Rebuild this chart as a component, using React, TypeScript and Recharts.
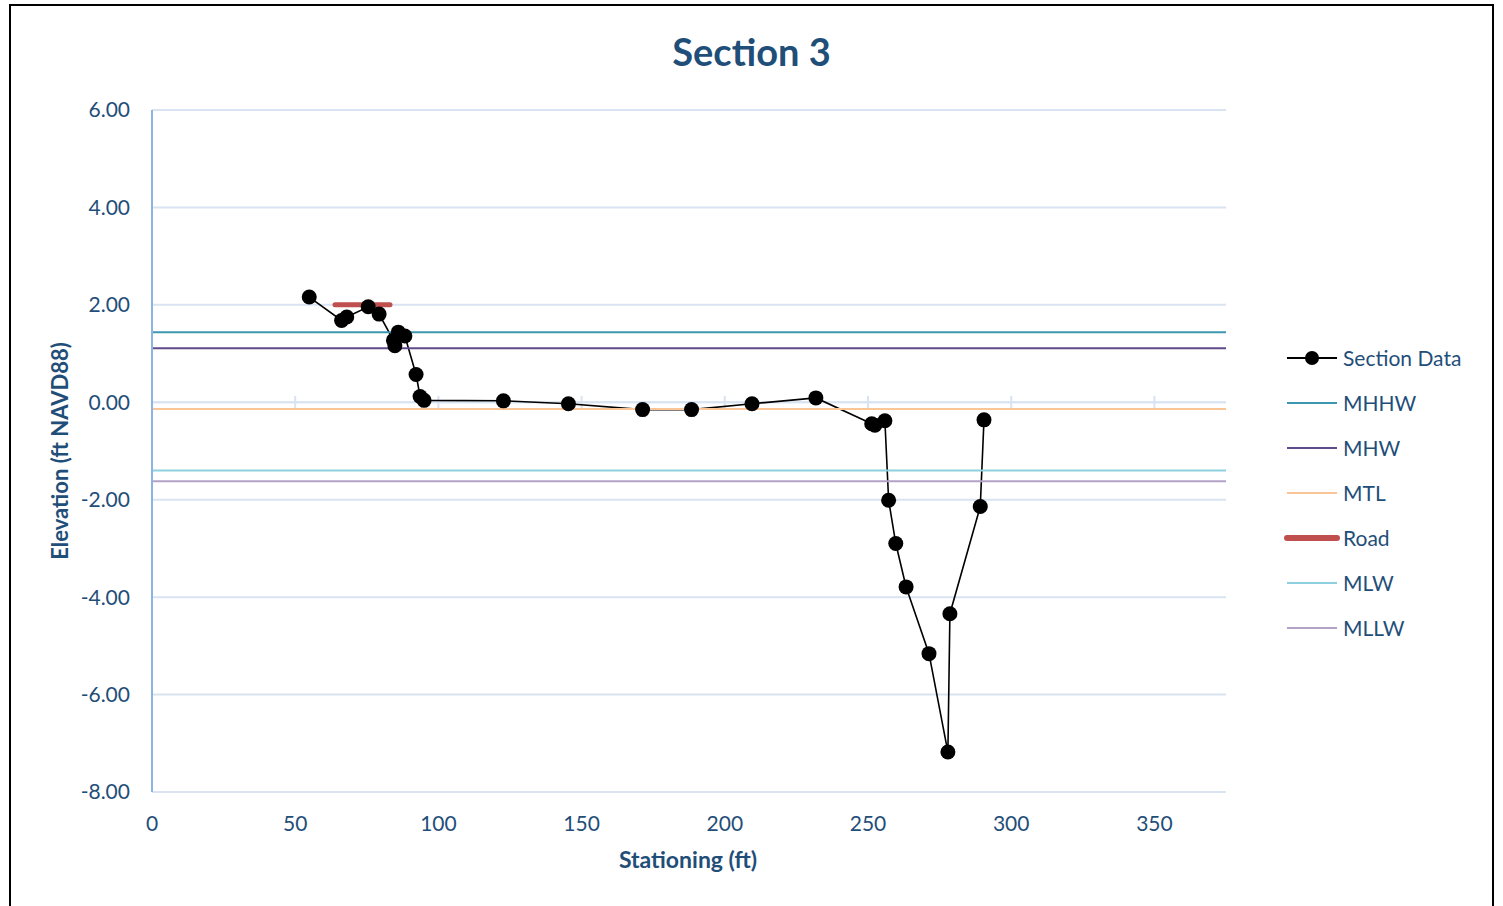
import React from "react";
import {
  LineChart,
  Line,
  XAxis,
  YAxis,
  CartesianGrid,
  ReferenceLine,
  Label,
} from "recharts";

// Surveyed cross-section, in survey order (station ft, elevation ft NAVD88)
const stationFt = [
  54.9, 66.2, 68.0, 75.5, 79.3, 84.3, 84.8, 86.0, 88.3, 92.2, 93.6, 95.0,
  122.7, 145.4, 171.3, 188.4, 209.5, 231.8, 251.3, 252.4, 255.9, 257.2,
  259.7, 263.3, 271.3, 277.9, 278.6, 289.2, 290.5,
];
const elevationFt = [
  2.16, 1.68, 1.75, 1.96, 1.81, 1.27, 1.16, 1.44, 1.36, 0.57, 0.12, 0.04,
  0.03, -0.03, -0.15, -0.15, -0.03, 0.09, -0.44, -0.47, -0.38, -2.01,
  -2.9, -3.79, -5.16, -7.18, -4.34, -2.14, -0.36,
];

// Tidal datums, drawn across the full station range
const datumNames = ["MHHW", "MHW", "MTL", "MLW", "MLLW"];
const datumElev = [1.44, 1.11, -0.14, -1.4, -1.62];
const datumColors = ["#3d96b0", "#5f4b8b", "#fcc597", "#8fd0e0", "#b3a2c7"];
const datumStations = [0, 375];

// Road crown
const roadStations = [63.9, 83.1];
const roadElev = 2.0;

const xTicks = [0, 50, 100, 150, 200, 250, 300, 350];
const yTicks = [-8, -6, -4, -2, 0, 2, 4, 6];

const sectionData = stationFt.map((x, i) => ({ x, y: elevationFt[i] }));
const roadData = roadStations.map((x) => ({ x, y: roadElev }));
const datumData = datumElev.map((e) => datumStations.map((x) => ({ x, y: e })));

const INK = "#1f4e79";
const GRID = "#d9e3f2";
const FONT = "Lato, 'Open Sans', sans-serif";

const legendItems = [
  { name: "Section Data", color: "#000", width: 2, dot: true },
  { name: datumNames[0], color: datumColors[0], width: 2 },
  { name: datumNames[1], color: datumColors[1], width: 2 },
  { name: datumNames[2], color: datumColors[2], width: 2 },
  { name: "Road", color: "#c0504d", width: 6 },
  { name: datumNames[3], color: datumColors[3], width: 2 },
  { name: datumNames[4], color: datumColors[4], width: 2 },
];

function ChartLegend() {
  return (
    <div style={{ position: "absolute", left: 1273, top: 329, fontFamily: FONT }}>
      {legendItems.map((it) => (
        <div
          key={it.name}
          style={{ display: "flex", alignItems: "center", height: 45 }}
        >
          <svg width={56} height={20}>
            <line
              x1={3}
              x2={53}
              y1={10}
              y2={10}
              stroke={it.color}
              strokeWidth={it.width}
              strokeLinecap={it.width > 3 ? "round" : "butt"}
            />
            {it.dot && <circle cx={28} cy={10} r={7} fill="#000" />}
          </svg>
          <span style={{ fontSize: 21, color: INK, marginLeft: 3 }}>{it.name}</span>
        </div>
      ))}
    </div>
  );
}

export default function App() {
  return (
    <div
      style={{
        position: "absolute",
        left: 9,
        top: 4,
        width: 1485,
        height: 940,
        border: "2px solid #000",
        boxSizing: "border-box",
        background: "#fff",
        fontFamily: FONT,
      }}
    >
      <div
        style={{
          position: "absolute",
          left: 0,
          right: 0,
          top: 25,
          textAlign: "center",
          fontSize: 38,
          lineHeight: "40px",
          fontWeight: 700,
          color: INK,
        }}
      >
        Section 3
      </div>
      <div style={{ position: "absolute", left: 0, top: 0 }}>
        <LineChart
          width={1470}
          height={900}
          margin={{ top: 104, right: 255, bottom: 54, left: 0 }}
        >
          <CartesianGrid
            vertical={false}
            stroke={GRID}
            strokeWidth={2}
            horizontalValues={yTicks}
          />
          <XAxis
            type="number"
            dataKey="x"
            domain={[0, 375]}
            ticks={xTicks}
            allowDataOverflow
            axisLine={false}
            tickLine={false}
            tickSize={0}
            tickMargin={24}
            height={60}
            tick={{ fill: INK, fontSize: 21, fontFamily: FONT }}
          >
            <Label
              content={() => (
                <text
                  x={677}
                  y={862}
                  textAnchor="middle"
                  fill={INK}
                  fontSize={23}
                  fontWeight={700}
                  fontFamily={FONT}
                >
                  Stationing (ft)
                </text>
              )}
            />
          </XAxis>
          <YAxis
            type="number"
            domain={[-8, 6]}
            ticks={yTicks}
            width={141}
            allowDataOverflow
            axisLine={{ stroke: "#8db3e2", strokeWidth: 2 }}
            tickLine={false}
            tickSize={0}
            tickMargin={22}
            tickFormatter={(v: number) => v.toFixed(2)}
            tick={{ fill: INK, fontSize: 21, fontFamily: FONT }}
          >
            <Label
              content={() => (
                <text
                  x={57}
                  y={445}
                  transform="rotate(-90 57 445)"
                  textAnchor="middle"
                  fill={INK}
                  fontSize={22}
                  fontWeight={700}
                  fontFamily={FONT}
                >
                  Elevation (ft NAVD88)
                </text>
              )}
            />
          </YAxis>

          {/* horizontal axis crosses at elevation 0 */}
          <ReferenceLine y={0} stroke={GRID} strokeWidth={2} />
          {xTicks.map((t) => (
            <ReferenceLine
              key={t}
              segment={[
                { x: t, y: -0.13 },
                { x: t, y: 0.13 },
              ]}
              stroke={GRID}
              strokeWidth={2}
            />
          ))}

          <Line
            data={sectionData}
            dataKey="y"
            name="Section Data"
            stroke="#000"
            strokeWidth={1.6}
            dot={{ r: 7.5, fill: "#000", stroke: "#000", strokeWidth: 0 }}
            activeDot={false}
            isAnimationActive={false}
          />
          {datumData.slice(0, 3).map((d, i) => (
            <Line
              key={datumNames[i]}
              data={d}
              dataKey="y"
              name={datumNames[i]}
              stroke={datumColors[i]}
              strokeWidth={2}
              dot={false}
              activeDot={false}
              isAnimationActive={false}
            />
          ))}
          <Line
            data={roadData}
            dataKey="y"
            name="Road"
            stroke="#c0504d"
            strokeWidth={5}
            strokeLinecap="round"
            dot={false}
            activeDot={false}
            isAnimationActive={false}
          />
          {datumData.slice(3).map((d, i) => (
            <Line
              key={datumNames[i + 3]}
              data={d}
              dataKey="y"
              name={datumNames[i + 3]}
              stroke={datumColors[i + 3]}
              strokeWidth={2}
              dot={false}
              activeDot={false}
              isAnimationActive={false}
            />
          ))}
        </LineChart>
      </div>
      <ChartLegend />
    </div>
  );
}
